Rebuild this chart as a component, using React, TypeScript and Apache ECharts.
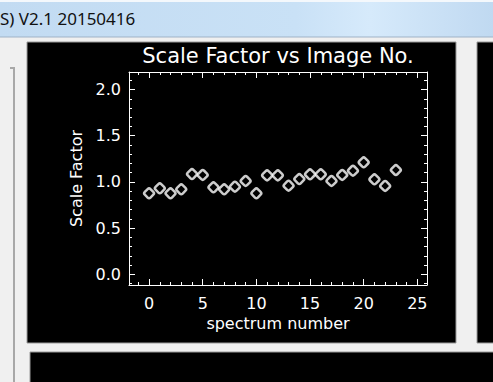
import { useEffect, useRef } from "react";
import * as echarts from "echarts";

// Spectrum index and the fitted scale factor for each image
const spectrumNumbers = [0, 1, 2, 3, 4, 5, 6, 7, 8, 9, 10, 11, 12, 13, 14, 15, 16, 17, 18, 19, 20, 21, 22, 23];
const scaleFactors = [
  0.877, 0.931, 0.877, 0.92, 1.085, 1.075, 0.942, 0.92, 0.948, 1.01, 0.877, 1.071,
  1.071, 0.959, 1.031, 1.082, 1.082, 1.01, 1.075, 1.121, 1.212, 1.028, 0.956, 1.129,
];

// Axis ticks (major ticks carry labels, minor ticks are plain marks)
const xMajorTicks = [0, 5, 10, 15, 20, 25];
const xMinorTicks = [-1, 0, 1, 2, 3, 4, 5, 6, 7, 8, 9, 10, 11, 12, 13, 14, 15, 16, 17, 18, 19, 20, 21, 22, 23, 24, 25];
const yMajorTicks = [0, 0.5, 1, 1.5, 2];
const yMinorTicks = [-0.1, 0, 0.1, 0.2, 0.3, 0.4, 0.5, 0.6, 0.7, 0.8, 0.9, 1, 1.1, 1.2, 1.3, 1.4, 1.5, 1.6, 1.7, 1.8, 1.9, 2, 2.1];

const xRange = [-1.87, 25.9];
const yRange = [-0.116, 2.19];

const plotFont = "DejaVu Sans";
const white = "#ffffff";

function xAxisDef(position: string, ticks: number[], len: number, showLine: boolean, labels: boolean) {
  return {
    type: "value",
    position,
    min: xRange[0],
    max: xRange[1],
    axisLine: { show: showLine, onZero: false, lineStyle: { color: white, width: 1 } },
    axisTick: { show: true, inside: true, length: len, customValues: ticks, lineStyle: { color: white, width: 1 } },
    axisLabel: labels
      ? { show: true, customValues: xMajorTicks, color: white, fontFamily: plotFont, fontSize: 16, margin: 10 }
      : { show: false },
    splitLine: { show: false },
  };
}

function yAxisDef(position: string, ticks: number[], len: number, showLine: boolean, labels: boolean) {
  return {
    type: "value",
    position,
    min: yRange[0],
    max: yRange[1],
    axisLine: { show: showLine, onZero: false, lineStyle: { color: white, width: 1 } },
    axisTick: { show: true, inside: true, length: len, customValues: ticks, lineStyle: { color: white, width: 1 } },
    axisLabel: labels
      ? {
          show: true,
          customValues: yMajorTicks,
          color: white,
          fontFamily: plotFont,
          fontSize: 16,
          margin: 8,
          formatter: (v: number) => v.toFixed(1),
        }
      : { show: false },
    splitLine: { show: false },
  };
}

export default function App() {
  const ref = useRef<HTMLDivElement>(null);

  useEffect(() => {
    if (!ref.current) return;
    const chart = echarts.init(ref.current, undefined, { renderer: "svg" });

    // Axis placement: the 3rd and 4th axis of each direction get flipped by ECharts
    // because both sides are already taken, so they request the opposite side.
    const xAxes = [
      { ...xAxisDef("bottom", xMajorTicks, 6, true, true), name: "spectrum number", nameLocation: "middle", nameGap: 29,
        nameTextStyle: { color: white, fontFamily: plotFont, fontSize: 16 } },
      xAxisDef("top", xMajorTicks, 6, true, false),
      xAxisDef("bottom", xMinorTicks, 3, false, false),
      xAxisDef("top", xMinorTicks, 3, false, false),
    ];
    const yAxes = [
      { ...yAxisDef("left", yMajorTicks, 6, true, true), name: "Scale Factor", nameLocation: "middle", nameGap: 42,
        nameTextStyle: { color: white, fontFamily: plotFont, fontSize: 16 } },
      yAxisDef("right", yMajorTicks, 6, true, false),
      yAxisDef("left", yMinorTicks, 3, false, false),
      yAxisDef("right", yMinorTicks, 3, false, false),
    ];

    chart.setOption({
      animation: false,
      backgroundColor: "#f0f0f0",
      grid: { left: 129, top: 72, width: 298, height: 213, containLabel: false },
      xAxis: xAxes,
      yAxis: yAxes,
      graphic: [
        // window title bar
        {
          type: "rect", z: -10, silent: true,
          shape: { x: 0, y: 0, width: 493, height: 37 },
          style: {
            fill: new echarts.graphic.LinearGradient(0, 0, 1, 0, [
              { offset: 0, color: "#c2dbf2" },
              { offset: 0.6, color: "#c9e1f6" },
              { offset: 0.75, color: "#d6eafb" },
              { offset: 1, color: "#c0d9f1" },
            ]),
          },
        },
        { type: "rect", z: -10, silent: true, shape: { x: 0, y: 0, width: 493, height: 2 }, style: { fill: "#f4f8fc" } },
        { type: "line", z: -9, silent: true, shape: { x1: 0, y1: 37, x2: 493, y2: 37 }, style: { stroke: "#9fb2c6", lineWidth: 1 } },
        {
          type: "text", z: 10, silent: true, x: 0, y: 18,
          style: { text: "S) V2.1 20150416", fill: "#111111", font: "17px 'Noto Sans'", textVerticalAlign: "middle" },
        },
        // frame edge at the left
        {
          type: "polyline", z: -9, silent: true,
          shape: { points: [[10, 68], [14, 68], [14, 382]] },
          style: { stroke: "#a8a8a8", lineWidth: 2, fill: "none" },
        },
        // black drawing panels
        { type: "rect", z: -8, silent: true, shape: { x: 27, y: 42, width: 429, height: 301 }, style: { fill: "#000000", stroke: "#9a9a9a", lineWidth: 1 } },
        { type: "rect", z: -8, silent: true, shape: { x: 477, y: 42, width: 20, height: 301 }, style: { fill: "#000000", stroke: "#9a9a9a", lineWidth: 1 } },
        { type: "rect", z: -8, silent: true, shape: { x: 30, y: 352, width: 470, height: 40 }, style: { fill: "#000000", stroke: "#9a9a9a", lineWidth: 1 } },
        // plot title
        {
          type: "text", z: 10, silent: true, x: 278, y: 56,
          style: {
            text: "Scale Factor vs Image No.", fill: white, font: `21px '${plotFont}'`,
            textAlign: "center", textVerticalAlign: "middle",
          },
        },
      ],
      series: [
        {
          type: "scatter",
          xAxisIndex: 0,
          yAxisIndex: 0,
          data: spectrumNumbers.map((x, i) => [x, scaleFactors[i]]),
          symbol: "roundRect",
          symbolRotate: 45,
          symbolSize: 8,
          itemStyle: { color: "#000000", borderColor: white, borderWidth: 2.5 },
          z: 5,
        },
      ],
    });

    return () => chart.dispose();
  }, []);

  return <div ref={ref} style={{ position: "absolute", left: 0, top: 0, width: 493, height: 382 }} />;
}
